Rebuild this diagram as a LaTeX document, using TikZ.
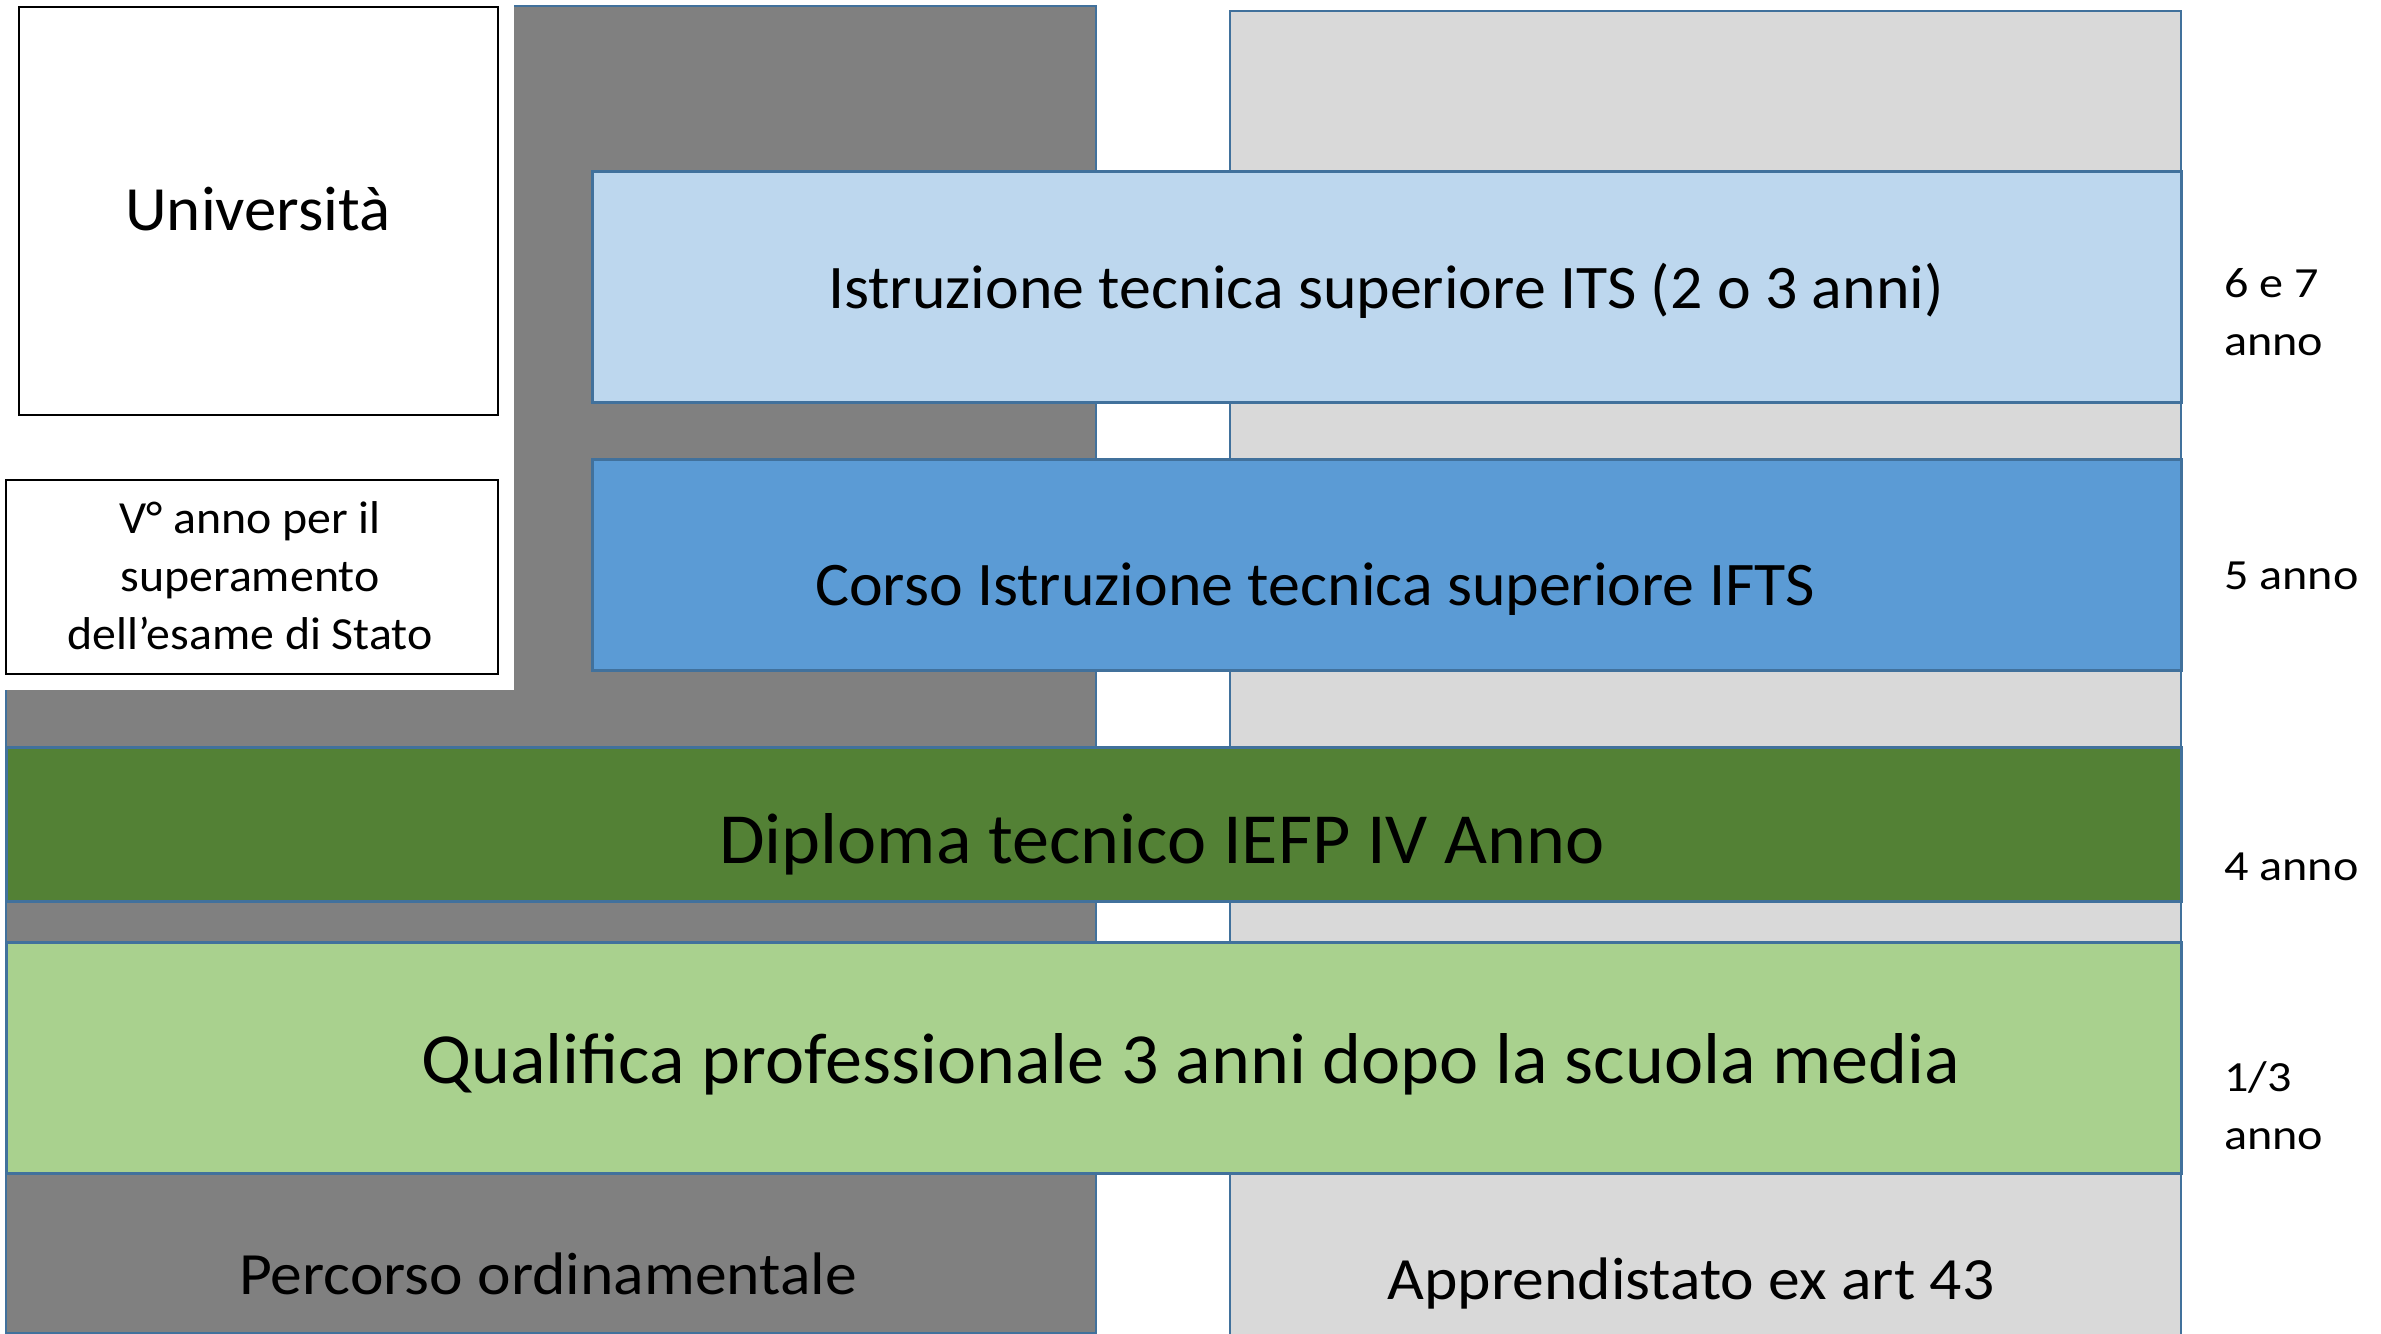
\documentclass[tikz,border=0pt]{standalone}
\usepackage{fontspec}
\setmainfont{Carlito}
\newfontfamily\fa[FakeStretch=1.03]{Carlito}
\newfontfamily\fb[FakeStretch=1.06]{Carlito}
\newfontfamily\fc[FakeStretch=1.12]{Carlito}
\newfontfamily\fd[FakeStretch=1.04]{Carlito}
\definecolor{dgrey}{HTML}{808080}
\definecolor{lgrey}{HTML}{D9D9D9}
\definecolor{itsc}{HTML}{BDD7EE}
\definecolor{iftsc}{HTML}{5B9BD5}
\definecolor{dipc}{HTML}{538135}
\definecolor{qualc}{HTML}{A9D18E}
\definecolor{bordc}{HTML}{41719C}
\begin{document}
\begin{tikzpicture}[x=1pt,y=-1pt,
  colbox/.style={draw=bordc, line width=2pt, anchor=north west, inner sep=0pt},
  band/.style={draw=bordc, line width=3pt, anchor=north west, inner sep=0pt},
  wbox/.style={draw=black, line width=2pt, fill=white, anchor=north west, inner sep=0pt},
  txt/.style={anchor=base, inner sep=0pt},
  side/.style={anchor=base west, inner sep=0pt, font=\fc\fontsize{43}{52}\selectfont}]
\useasboundingbox (0,0) rectangle (2381,1333);
% columns
\node[colbox, fill=dgrey, minimum width=1090pt, minimum height=1327pt] (ord) at (5,5) {};
\node[colbox, fill=lgrey, minimum width=951pt, minimum height=1325pt] (app) at (1229,10) {};
% white cover top-left
\node[anchor=north west, fill=white, inner sep=0pt, minimum width=514pt, minimum height=690pt] (cover) at (0,0) {};
\node[wbox, minimum width=479pt, minimum height=408pt] (uni) at (18,6) {};
\node[wbox, minimum width=492pt, minimum height=194pt] (vbox) at (5,479) {};
% bands
\node[band, fill=itsc, minimum width=1589pt, minimum height=231pt] (its) at (591,170) {};
\node[band, fill=iftsc, minimum width=1589pt, minimum height=211pt] (ifts) at (591,458) {};
\node[band, fill=dipc, minimum width=2175pt, minimum height=154pt] (dip) at (5,746) {};
\node[band, fill=qualc, minimum width=2175pt, minimum height=231pt] (qual) at (5,941) {};
% texts
\node[txt, font=\fa\fontsize{63}{70}\selectfont] (tuni) at (258,230) {Università};
\node[txt, font=\fd\fontsize{46}{55}\selectfont] (tv1) at (250,533) {V° anno per il};
\node[txt, font=\fd\fontsize{46}{55}\selectfont] (tv2) at (250,591.5) {superamento};
\node[txt, font=\fd\fontsize{46}{55}\selectfont] (tv3) at (250,649.5) {dell’esame di Stato};
\node[txt, font=\fa\fontsize{62}{70}\selectfont] (tits) at (1386,308) {Istruzione tecnica superiore ITS (2 o 3 anni)};
\node[txt, font=\fa\fontsize{62}{70}\selectfont] (tifts) at (1315,605) {Corso Istruzione tecnica superiore IFTS};
\node[txt, font=\fa\fontsize{72}{80}\selectfont] (tdip) at (1162,863.5) {Diploma tecnico IEFP IV Anno};
\node[txt, font=\fa\fontsize{72}{80}\selectfont] (tqual) at (1191,1083.5) {Qualifica professionale 3 anni dopo la scuola media};
\node[txt, font=\fb\fontsize{60}{70}\selectfont] (tord) at (548,1294) {Percorso ordinamentale};
\node[txt, font=\fb\fontsize{60}{70}\selectfont] (tapp) at (1691,1299.5) {Apprendistato ex art 43};
% side labels
\node[side] (s1a) at (2224,297) {6 e 7};
\node[side] (s1b) at (2224,355) {anno};
\node[side] (s2) at (2224,589) {5 anno};
\node[side] (s3) at (2224,880) {4 anno};
\node[side] (s4a) at (2224,1091.5) {1/3};
\node[side] (s4b) at (2224,1149) {anno};
\end{tikzpicture}
\end{document}
